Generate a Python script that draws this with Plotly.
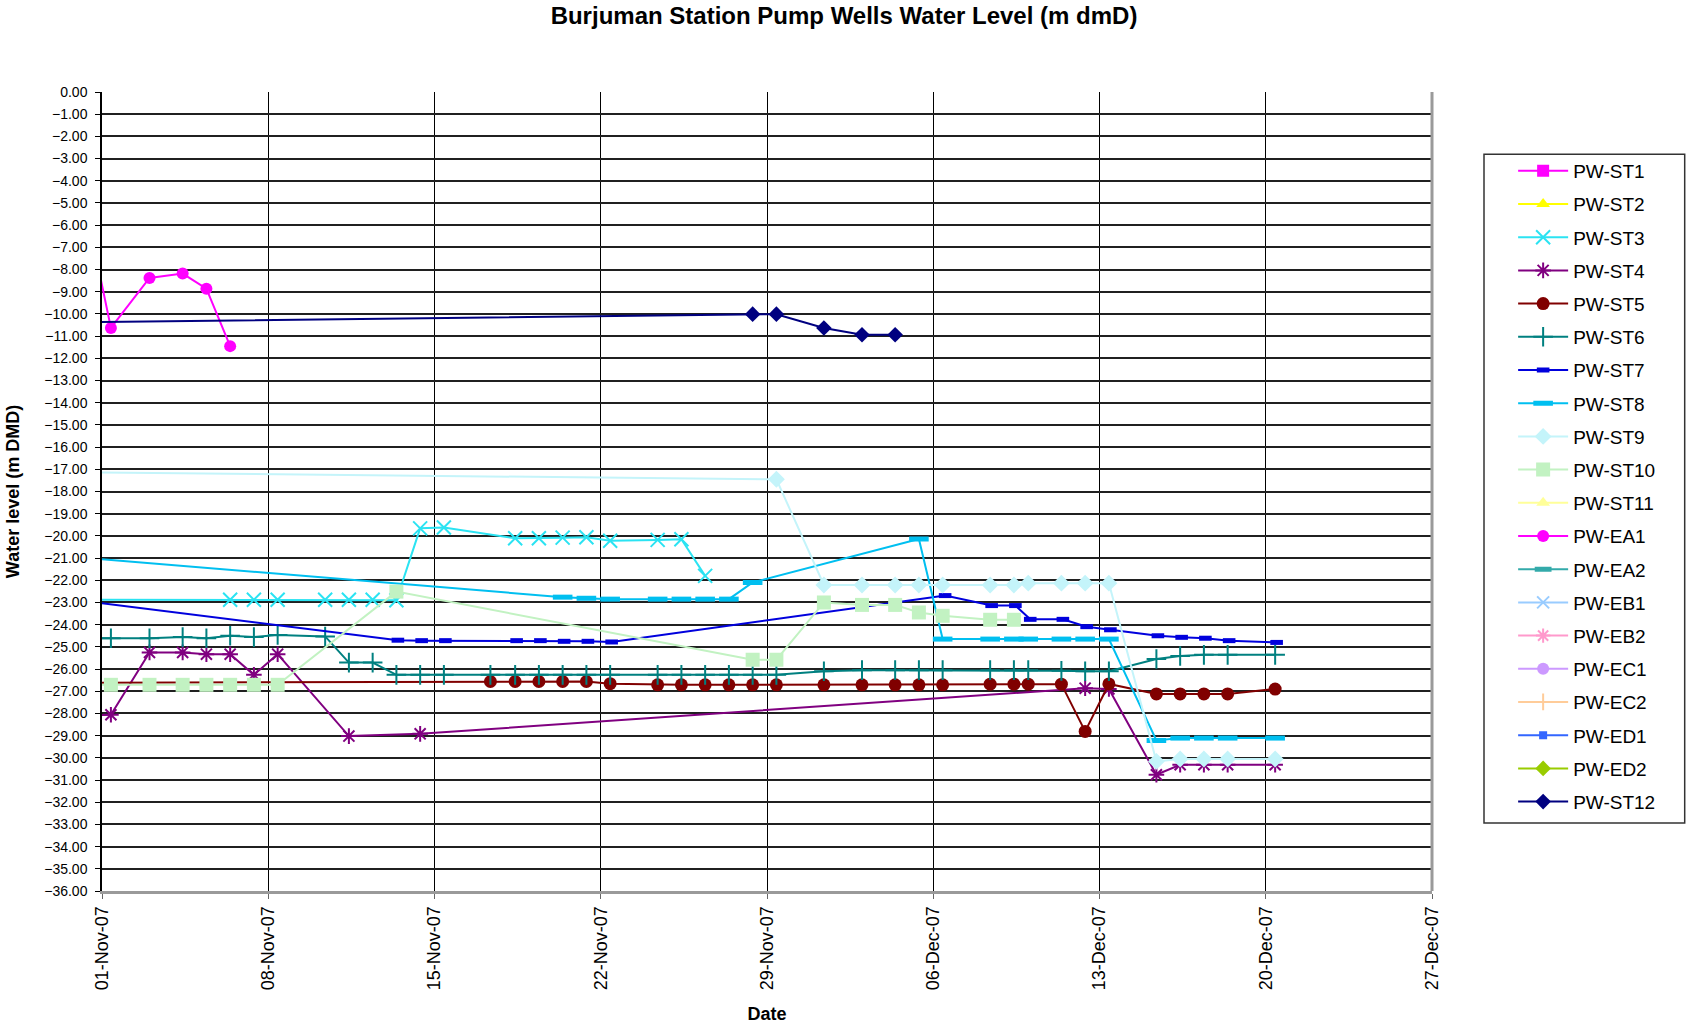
import plotly.graph_objects as go

# ---------------- text ----------------
chart_title = "Burjuman Station Pump Wells Water Level (m dmD)"
y_title = "Water level (m DMD)"
x_title = "Date"
x_range = ["2007-11-01", "2007-12-27"]
y_range = [-36, 0]

# ---------------- data ----------------
# first date of several series lies just before 01-Nov (line enters from the left edge)
st3_dates = ["2007-10-31 09:30", "2007-11-06 09:30", "2007-11-07 09:30", "2007-11-08 09:30",
             "2007-11-10 09:30", "2007-11-11 09:30", "2007-11-12 09:30", "2007-11-13 09:30",
             "2007-11-14 09:30", "2007-11-15 09:30", "2007-11-18 09:30", "2007-11-19 09:30",
             "2007-11-20 09:30", "2007-11-21 09:30", "2007-11-22 09:30", "2007-11-24 09:30",
             "2007-11-25 09:30", "2007-11-26 09:30"]
st3_vals = [-22.88, -22.88, -22.88, -22.88, -22.88, -22.88, -22.88, -22.90,
            -19.66, -19.62, -20.11, -20.11, -20.08, -20.06, -20.22, -20.18, -20.15, -21.80]

st4_dates = ["2007-10-31 09:30", "2007-11-01 09:00", "2007-11-03 00:00", "2007-11-04 09:30",
             "2007-11-05 09:30", "2007-11-06 09:30", "2007-11-07 09:30", "2007-11-08 09:30",
             "2007-11-11 09:30", "2007-11-14 09:30", "2007-12-12 09:30", "2007-12-13 09:30",
             "2007-12-15 09:30", "2007-12-16 09:30", "2007-12-17 09:30", "2007-12-18 09:30",
             "2007-12-20 09:30"]
st4_vals = [-28.10, -28.06, -25.25, -25.25, -25.33, -25.33, -26.26, -25.33,
            -29.02, -28.92, -26.86, -26.90, -30.76, -30.31, -30.31, -30.31, -30.31]

st5_dates = ["2007-10-31 09:30", "2007-11-17 08:30", "2007-11-18 09:30", "2007-11-19 09:30",
             "2007-11-20 09:30", "2007-11-21 09:30", "2007-11-22 09:30", "2007-11-24 09:30",
             "2007-11-25 09:30", "2007-11-26 09:30", "2007-11-27 09:30", "2007-11-28 09:30",
             "2007-11-29 09:30", "2007-12-01 09:30", "2007-12-03 00:00", "2007-12-04 09:30",
             "2007-12-05 09:30", "2007-12-06 09:30", "2007-12-08 09:30", "2007-12-09 09:30",
             "2007-12-10 00:00", "2007-12-11 09:30", "2007-12-12 09:30", "2007-12-13 09:30",
             "2007-12-15 09:30", "2007-12-16 09:30", "2007-12-17 09:30", "2007-12-18 09:30",
             "2007-12-20 09:30"]
st5_vals = [-26.62, -26.56, -26.56, -26.56, -26.56, -26.56, -26.66, -26.71,
            -26.71, -26.71, -26.71, -26.71, -26.71, -26.71, -26.71, -26.71,
            -26.71, -26.71, -26.68, -26.68, -26.68, -26.68, -28.81, -26.67,
            -27.12, -27.12, -27.12, -27.12, -26.90]

st6_dates = ["2007-10-31 09:30", "2007-11-01 09:00", "2007-11-03 00:00", "2007-11-04 09:30",
             "2007-11-05 09:30", "2007-11-06 09:30", "2007-11-07 09:30", "2007-11-08 09:30",
             "2007-11-10 09:30", "2007-11-11 09:30", "2007-11-12 09:30", "2007-11-13 09:30",
             "2007-11-14 09:30", "2007-11-15 09:30", "2007-11-17 08:30", "2007-11-18 09:30",
             "2007-11-19 09:30", "2007-11-20 09:30", "2007-11-21 09:30", "2007-11-22 09:30",
             "2007-11-24 09:30", "2007-11-25 09:30", "2007-11-26 09:30", "2007-11-27 09:30",
             "2007-11-28 09:30", "2007-11-29 09:30", "2007-12-01 09:30", "2007-12-03 00:00",
             "2007-12-04 09:30", "2007-12-05 09:30", "2007-12-06 09:30", "2007-12-08 09:30",
             "2007-12-09 09:30", "2007-12-10 00:00", "2007-12-11 09:30", "2007-12-12 09:30",
             "2007-12-13 09:30", "2007-12-15 09:30", "2007-12-16 09:30", "2007-12-17 09:30",
             "2007-12-18 09:30", "2007-12-20 09:30"]
st6_vals = [-24.61, -24.61, -24.61, -24.56, -24.61, -24.50, -24.56, -24.46,
            -24.53, -25.71, -25.71, -26.26, -26.26, -26.26, -26.26, -26.26,
            -26.26, -26.26, -26.26, -26.26, -26.26, -26.26, -26.26, -26.26,
            -26.26, -26.26, -26.10, -26.05, -26.05, -26.05, -26.05, -26.05,
            -26.05, -26.05, -26.08, -26.10, -26.10, -25.55, -25.41, -25.36,
            -25.36, -25.36]

st7_dates = ["2007-10-31 09:30", "2007-11-13 11:00", "2007-11-14 11:00", "2007-11-15 11:00",
             "2007-11-18 11:00", "2007-11-19 11:00", "2007-11-20 11:00", "2007-11-21 11:00",
             "2007-11-22 11:00", "2007-12-06 12:00", "2007-12-08 11:00", "2007-12-09 11:00",
             "2007-12-10 02:00", "2007-12-11 11:00", "2007-12-12 11:00", "2007-12-13 11:00",
             "2007-12-15 11:00", "2007-12-16 11:00", "2007-12-17 11:00", "2007-12-18 11:00",
             "2007-12-20 11:00"]
st7_vals = [-22.96, -24.70, -24.72, -24.72, -24.72, -24.72, -24.75, -24.75,
            -24.78, -22.69, -23.14, -23.14, -23.76, -23.76, -24.09, -24.23,
            -24.50, -24.57, -24.61, -24.72, -24.80]

st8_dates = ["2007-10-31 09:30", "2007-11-20 09:30", "2007-11-21 09:30", "2007-11-22 09:30",
             "2007-11-24 09:30", "2007-11-25 09:30", "2007-11-26 09:30", "2007-11-27 09:30",
             "2007-11-28 09:30", "2007-12-05 09:30", "2007-12-06 09:30", "2007-12-08 09:30",
             "2007-12-09 09:30", "2007-12-10 00:00", "2007-12-11 09:30", "2007-12-12 09:30",
             "2007-12-13 09:30", "2007-12-15 09:30", "2007-12-16 09:30", "2007-12-17 09:30",
             "2007-12-18 09:30", "2007-12-20 09:30"]
st8_vals = [-21.00, -22.76, -22.81, -22.85, -22.85, -22.85, -22.85, -22.85,
            -22.10, -20.14, -24.65, -24.65, -24.65, -24.65, -24.65, -24.65,
            -24.65, -29.22, -29.11, -29.11, -29.11, -29.11]

st9_dates = ["2007-10-31 09:30", "2007-11-29 09:30", "2007-12-01 09:30", "2007-12-03 00:00",
             "2007-12-04 09:30", "2007-12-05 09:30", "2007-12-06 09:30", "2007-12-08 09:30",
             "2007-12-09 09:30", "2007-12-10 00:00", "2007-12-11 09:30", "2007-12-12 09:30",
             "2007-12-13 09:30", "2007-12-15 09:30", "2007-12-16 09:30", "2007-12-17 09:30",
             "2007-12-18 09:30", "2007-12-20 09:30"]
st9_vals = [-17.14, -17.45, -22.21, -22.21, -22.21, -22.21, -22.21, -22.21,
            -22.21, -22.13, -22.13, -22.13, -22.13, -30.16, -30.05, -30.05,
            -30.05, -30.05]

st10_dates = ["2007-10-31 09:30", "2007-11-01 09:00", "2007-11-03 00:00", "2007-11-04 09:30",
              "2007-11-05 09:30", "2007-11-06 09:30", "2007-11-07 09:30", "2007-11-08 09:30",
              "2007-11-13 09:30", "2007-11-28 09:30", "2007-11-29 09:30", "2007-12-01 09:30",
              "2007-12-03 00:00", "2007-12-04 09:30", "2007-12-05 09:30", "2007-12-06 09:30",
              "2007-12-08 09:30", "2007-12-09 09:30"]
st10_vals = [-26.71, -26.71, -26.71, -26.71, -26.71, -26.71, -26.71, -26.71,
             -22.51, -25.58, -25.58, -23.00, -23.11, -23.11, -23.45, -23.60,
             -23.78, -23.78]

ea1_dates = ["2007-10-31 09:30", "2007-11-01 09:00", "2007-11-03 00:00", "2007-11-04 09:30",
             "2007-11-05 09:30", "2007-11-06 09:30"]
ea1_vals = [-5.60, -10.63, -8.38, -8.18, -8.86, -11.45]

st12_dates = ["2007-10-31 09:30", "2007-11-28 09:30", "2007-11-29 09:30", "2007-12-01 09:30",
              "2007-12-03 00:00", "2007-12-04 09:30"]
st12_vals = [-10.37, -10.01, -10.01, -10.63, -10.94, -10.94]

# wells listed in the legend but with no readings in this period
no_dates = [None]
no_vals = [None]

# ---------------- series definitions: (name, dates, values, colour, symbol, size) ----------------
series = [
    ("PW-ST1", no_dates, no_vals, "#FF00FF", "square", 12),
    ("PW-ST2", no_dates, no_vals, "#FFFF00", "triangle-up", 12),
    ("PW-ST3", st3_dates, st3_vals, "#2BE3F2", "x-thin-open", 14),
    ("PW-ST4", st4_dates, st4_vals, "#800080", "asterisk-open", 13),
    ("PW-ST5", st5_dates, st5_vals, "#800000", "circle", 13),
    ("PW-ST6", st6_dates, st6_vals, "#008080", "cross-thin-open", 14),
    ("PW-ST7", st7_dates, st7_vals, "#0000DD", "line-ew-open", 9),
    ("PW-ST8", st8_dates, st8_vals, "#00BFF0", "line-ew-open", 14),
    ("PW-ST9", st9_dates, st9_vals, "#C4F4FA", "diamond", 13),
    ("PW-ST10", st10_dates, st10_vals, "#C2F2C2", "square", 14),
    ("PW-ST11", no_dates, no_vals, "#FFFF99", "triangle-up", 12),
    ("PW-EA1", ea1_dates, ea1_vals, "#FF00FF", "circle", 12),
    ("PW-EA2", no_dates, no_vals, "#33AAAA", "line-ew-open", 12),
    ("PW-EB1", no_dates, no_vals, "#99CCFF", "x-thin-open", 12),
    ("PW-EB2", no_dates, no_vals, "#FF99CC", "asterisk-open", 12),
    ("PW-EC1", no_dates, no_vals, "#CC99FF", "circle", 12),
    ("PW-EC2", no_dates, no_vals, "#FFCC99", "cross-thin-open", 12),
    ("PW-ED1", no_dates, no_vals, "#3366FF", "square", 8),
    ("PW-ED2", no_dates, no_vals, "#99CC00", "diamond", 12),
    ("PW-ST12", st12_dates, st12_vals, "#000080", "diamond", 12),
]

fig = go.Figure()
for i, (name, xs, ys, col, sym, size) in enumerate(series):
    is_open = sym.endswith("-open")
    lw = 5 if sym == "line-ew-open" else 2
    fig.add_trace(go.Scatter(
        x=xs, y=ys, name=name, mode="lines+markers",
        legendgroup="g%02d" % i, showlegend=True,
        line=dict(color=col, width=2),
        marker=dict(symbol=sym, size=size, color=col,
                    line=dict(color=col, width=lw if is_open else 0)),
    ))

font_family = "Liberation Sans, Arial, sans-serif"

fig.update_layout(
    width=1688, height=1024,
    margin=dict(l=102, r=256, t=92, b=133),
    paper_bgcolor="white", plot_bgcolor="white",
    font=dict(family=font_family, color="black"),
    title=dict(text="<b>%s</b>" % chart_title, x=0.5, xref="container", xanchor="center",
               y=1 - 16 / 1024, yref="container", yanchor="middle",
               font=dict(size=24, family=font_family, color="black")),
    showlegend=True,
    legend=dict(x=1.061, y=0.925, xanchor="left", yanchor="top",
                bgcolor="rgba(0,0,0,0)", borderwidth=0,
                font=dict(size=19, family=font_family, color="black"),
                tracegroupgap=5.5, itemwidth=50, traceorder="grouped"),
)

fig.update_xaxes(
    type="date", range=x_range, tick0=x_range[0], dtick=7 * 86400000,
    tickformat="%d-%b-%y", tickangle=-90,
    tickfont=dict(size=18, family=font_family, color="black"),
    showgrid=True, gridcolor="black", gridwidth=1,
    showline=True, linecolor="#9a9a9a", linewidth=3,
    ticks="outside", ticklen=5, tickcolor="#666666",
    zeroline=False, automargin=False,
    title=dict(text="<b>%s</b>" % x_title, standoff=19,
               font=dict(size=18, family=font_family, color="black")),
)
fig.update_yaxes(
    range=y_range, dtick=1, tick0=0, tickformat=".2f",
    tickfont=dict(size=14, family=font_family, color="black"),
    showgrid=True, gridcolor="#202020", gridwidth=1.6,
    showline=True, linecolor="black", linewidth=1.5,
    ticks="outside", ticklen=5, tickcolor="black", ticklabelstandoff=5,
    zeroline=False, automargin=False,
    title=dict(text="<b>%s</b>" % y_title, standoff=20,
               font=dict(size=18, family=font_family, color="black")),
)

# right-hand border of the plot area (grey, as in the reference)
fig.add_shape(type="line", xref="paper", yref="paper", x0=1, x1=1, y0=0, y1=1,
              line=dict(color="#9a9a9a", width=3))
# legend frame
fig.add_shape(type="rect", xref="paper", yref="paper", x0=1.0391, x1=1.190, y0=0.085, y1=0.922,
              line=dict(color="#333333", width=1.5), fillcolor="rgba(0,0,0,0)", layer="below")

fig.write_html("out.html", post_script="document.body.style.margin='0';",
               config={"displayModeBar": False})
